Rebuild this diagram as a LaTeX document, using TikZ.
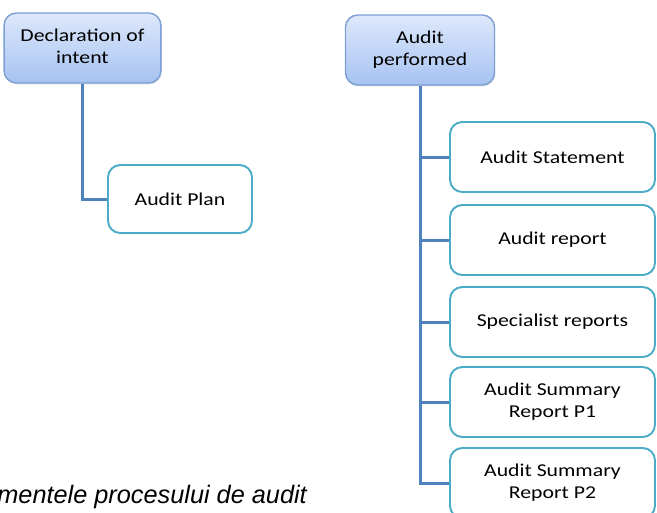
\documentclass[tikz,border=0pt]{standalone}
\usepackage{fontspec}
\setmainfont{Carlito}[FakeStretch=1.2]
\newfontfamily\capfont{Liberation Sans}
\usetikzlibrary{shapes}
\usetikzlibrary{shadows}

\definecolor{headtop}{HTML}{DDE8FB}
\definecolor{headbot}{HTML}{A7C3F2}
\definecolor{headline}{HTML}{7C9FD5}
\definecolor{leafline}{HTML}{4BACC6}
\definecolor{linkblue}{HTML}{4F81BD}

\tikzset{
    head/.style={rectangle, rounded corners=7pt, draw=headline, line width=0.8pt,
        top color=headtop, bottom color=headbot, minimum width=2.9cm, minimum height=1.4cm,
        drop shadow={opacity=0.25, shadow xshift=0.4pt, shadow yshift=-0.8pt}, font=\fontsize{10.3}{12.2}\selectfont},
    leaf/.style={rectangle, rounded corners=7pt, draw=leafline, line width=1.1pt, fill=white,
        minimum width=4.1cm, minimum height=1.4cm, font=\fontsize{10.3}{12.2}\selectfont},
    link/.style={draw=linkblue, line width=1.7pt}
}

\begin{document}
\begin{tikzpicture}
    \useasboundingbox (0,0) rectangle (13.14,-10.24);

    % left branch
    \node (decl) [head] at (1.65,-0.96) {\begin{tabular}{c}
         Declaration of\\ intent
    \end{tabular}};
    \node (plan) [leaf, minimum width=2.88cm, minimum height=1.36cm] at (3.6,-3.98) {Audit Plan};
    \draw [link] (decl.south) |- (plan.west);

    % right branch
    \node (perf) [head, minimum width=2.98cm] at (8.4,-1.0) {\begin{tabular}{c}
         Audit\\ performed
    \end{tabular}};
    \node (stmt) [leaf] at (11.05,-3.14) {Audit Statement};
    \node (rep) [leaf] at (11.05,-4.8) {Audit report};
    \node (spec) [leaf] at (11.05,-6.44) {Specialist reports};
    \node (sum1) [leaf] at (11.05,-8.04) {\begin{tabular}{c}
         Audit Summary\\ Report P1
    \end{tabular}};
    \node (sum2) [leaf] at (11.05,-9.66) {\begin{tabular}{c}
         Audit Summary\\ Report P2
    \end{tabular}};
    \draw [link] (perf.south) |- (sum2.west);
    \draw [link] (perf.south) |- (sum1.west);
    \draw [link] (perf.south) |- (spec.west);
    \draw [link] (perf.south) |- (rep.west);
    \draw [link] (perf.south) |- (stmt.west);

    % caption
    \node (cap) [anchor=base west, inner sep=0pt, font=\capfont\itshape\fontsize{14.4}{16}\selectfont] at (-0.06,-10.06) {mentele procesului de audit};
\end{tikzpicture}
\end{document}
